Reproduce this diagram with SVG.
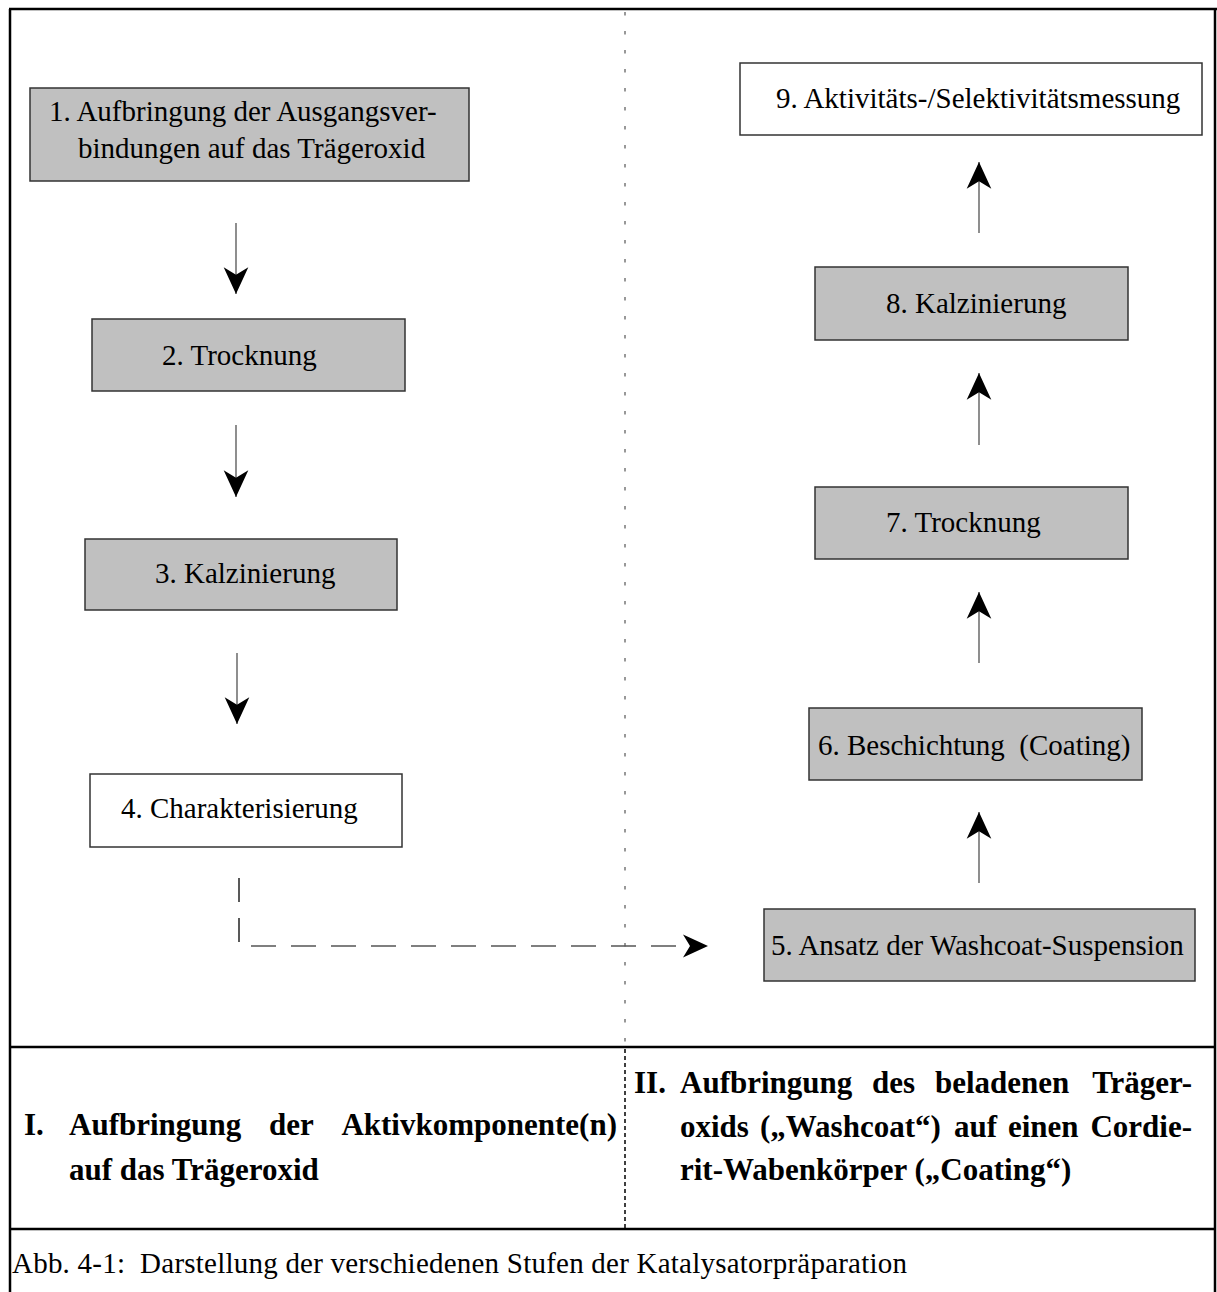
<svg xmlns="http://www.w3.org/2000/svg" width="1217" height="1292" viewBox="0 0 1217 1292">
<style>
text{font-family:"Liberation Serif","Times New Roman",serif;fill:#000}
.t{font-size:29px}
.b{font-size:31px;font-weight:bold}
.gray{fill:#c0c0c0;stroke:#333;stroke-width:1.5}
.white{fill:#fff;stroke:#333;stroke-width:1.5}
.arr{stroke:#444;stroke-width:1.2;fill:none;marker-end:url(#ah)}
.frame{stroke:#000;stroke-width:2.5;fill:none}
</style>
<defs>
<marker id="ah" markerUnits="userSpaceOnUse" markerWidth="30" markerHeight="30" viewBox="-26 -13 28 26" refX="0" refY="0" orient="auto">
<path d="M0,0 L-25,-11.5 L-18,0 L-25,11.5 Z" fill="#000"/>
</marker>
</defs>
<g id="frame">
<line class="frame" x1="9" y1="9" x2="1217" y2="9"/>
<line class="frame" x1="10" y1="9" x2="10" y2="1292"/>
<line class="frame" x1="1215" y1="9" x2="1215" y2="1292"/>
<line class="frame" x1="10" y1="1047" x2="1215" y2="1047"/>
<line class="frame" x1="10" y1="1229" x2="1215" y2="1229"/>
<line x1="625" y1="12" x2="625" y2="1046" stroke="#777" stroke-width="1.5" stroke-dasharray="3.5 15.5"/>
<line x1="625" y1="1049" x2="625" y2="1228" stroke="#000" stroke-width="1.5" stroke-dasharray="4 3"/>
</g>
<g id="n1"><rect class="gray" x="30" y="88" width="439" height="93"/>
<text class="t" x="49" y="121">1. Aufbringung der Ausgangsver-</text>
<text class="t" x="78" y="158">bindungen auf das Trägeroxid</text></g>
<g id="n2"><rect class="gray" x="92" y="319" width="313" height="72"/>
<text class="t" x="162" y="365">2. Trocknung</text></g>
<g id="n3"><rect class="gray" x="85" y="539" width="312" height="71"/>
<text class="t" x="155" y="583">3. Kalzinierung</text></g>
<g id="n4"><rect class="white" x="90" y="774" width="312" height="73"/>
<text class="t" x="121" y="818">4. Charakterisierung</text></g>
<g id="n5"><rect class="gray" x="764" y="909" width="431" height="72"/>
<text class="t" x="771" y="955">5. Ansatz der Washcoat-Suspension</text></g>
<g id="n6"><rect class="gray" x="809" y="708" width="333" height="72"/>
<text class="t" x="818" y="755" xml:space="preserve">6. Beschichtung  (Coating)</text></g>
<g id="n7"><rect class="gray" x="815" y="487" width="313" height="72"/>
<text class="t" x="886" y="532">7. Trocknung</text></g>
<g id="n8"><rect class="gray" x="815" y="267" width="313" height="73"/>
<text class="t" x="886" y="313">8. Kalzinierung</text></g>
<g id="n9"><rect class="white" x="740" y="63" width="462" height="72"/>
<text class="t" x="776" y="108">9. Aktivitäts-/Selektivitätsmessung</text></g>
<g id="connectors">
<line class="arr" x1="236" y1="223" x2="236" y2="294"/>
<line class="arr" x1="236" y1="425" x2="236" y2="497"/>
<line class="arr" x1="237" y1="653" x2="237" y2="724"/>
<line class="arr" x1="979" y1="883" x2="979" y2="812"/>
<line class="arr" x1="979" y1="663" x2="979" y2="592"/>
<line class="arr" x1="979" y1="445" x2="979" y2="373"/>
<line class="arr" x1="979" y1="233" x2="979" y2="162"/>
<line x1="239" y1="878" x2="239" y2="902" stroke="#222" stroke-width="1.5"/>
<line x1="239" y1="918" x2="239" y2="942" stroke="#222" stroke-width="1.5"/>
<line x1="251" y1="946" x2="676" y2="946" stroke="#555" stroke-width="1.5" stroke-dasharray="25 15"/>
<path d="M708,946 L683,934.5 L690,946 L683,957.5 Z" fill="#000"/>
</g>
<g id="labels">
<text class="b" x="24" y="1135">I.</text>
<text class="b" x="69" y="1135">Aufbringung</text>
<text class="b" x="269" y="1135">der</text>
<text class="b" x="617" y="1135" text-anchor="end">Aktivkomponente(n)</text>
<text class="b" x="69" y="1180">auf das Trägeroxid</text>
<text class="b" x="634" y="1093">II.</text>
<text class="b" x="680" y="1093">Aufbringung</text>
<text class="b" x="872" y="1093">des</text>
<text class="b" x="935" y="1093">beladenen</text>
<text class="b" x="1192" y="1093" text-anchor="end">Träger-</text>
<text class="b" x="680" y="1137">oxids</text>
<text class="b" x="760" y="1137">(„Washcoat“)</text>
<text class="b" x="954" y="1137">auf</text>
<text class="b" x="1008" y="1137">einen</text>
<text class="b" x="1192" y="1137" text-anchor="end">Cordie-</text>
<text class="b" x="680" y="1180">rit-Wabenkörper („Coating“)</text>
<text class="t" x="12" y="1273" textLength="895" lengthAdjust="spacing" xml:space="preserve">Abb. 4-1:  Darstellung der verschiedenen Stufen der Katalysatorpräparation</text>
</g>
</svg>
